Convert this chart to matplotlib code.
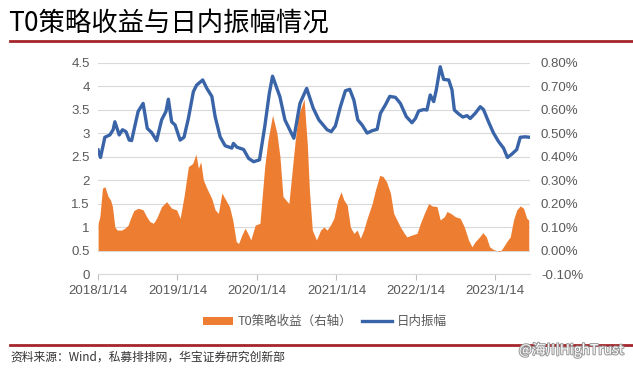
import numpy as np
import pandas as pd
import matplotlib
matplotlib.use('Agg')
import matplotlib.pyplot as plt
import matplotlib.dates as mdates
import matplotlib.patheffects as pe
from matplotlib.lines import Line2D
from matplotlib.patches import Patch
from matplotlib.ticker import FuncFormatter

plt.rcParams['font.family'] = ['Liberation Sans', 'Noto Sans CJK SC', 'DejaVu Sans']

# 日内振幅 (left axis)
amp_dates = ['2018-01-14', '2018-01-25', '2018-02-14', '2018-03-09', '2018-03-24', '2018-04-01',
             '2018-04-21', '2018-05-06', '2018-05-22', '2018-06-06', '2018-06-17', '2018-07-17',
             '2018-08-09', '2018-08-28', '2018-09-17', '2018-10-10', '2018-11-02', '2018-11-22',
             '2018-12-03', '2018-12-18', '2019-01-03', '2019-01-26', '2019-02-13', '2019-03-05',
             '2019-03-28', '2019-04-12', '2019-05-10', '2019-05-29', '2019-06-21', '2019-07-06',
             '2019-07-29', '2019-08-21', '2019-09-21', '2019-09-28', '2019-10-14', '2019-11-14',
             '2019-12-07', '2019-12-30', '2020-01-26', '2020-02-19', '2020-03-11', '2020-03-26',
             '2020-04-29', '2020-05-22', '2020-06-14', '2020-07-02', '2020-07-30', '2020-08-30',
             '2020-09-29', '2020-10-25', '2020-11-14', '2020-12-02', '2020-12-21', '2021-01-09',
             '2021-02-01', '2021-02-24', '2021-03-16', '2021-04-04', '2021-04-22', '2021-05-12',
             '2021-06-04', '2021-06-27', '2021-07-20', '2021-08-04', '2021-08-27', '2021-09-16',
             '2021-10-12', '2021-11-04', '2021-12-01', '2021-12-27', '2022-01-12', '2022-01-27',
             '2022-02-19', '2022-03-06', '2022-03-21', '2022-04-06', '2022-04-18', '2022-05-06',
             '2022-05-22', '2022-06-14', '2022-06-29', '2022-07-10', '2022-07-29', '2022-08-18',
             '2022-09-06', '2022-09-21', '2022-10-14', '2022-11-06', '2022-11-21', '2022-12-14',
             '2023-01-06', '2023-01-29', '2023-02-21', '2023-03-11', '2023-03-31', '2023-04-23',
             '2023-05-09', '2023-06-01', '2023-06-20']
amp_values = [2.64, 2.48, 2.91, 2.96, 3.07, 3.24,
              2.96, 3.07, 3.03, 2.85, 2.84, 3.46,
              3.63, 3.10, 3.01, 2.84, 3.28, 3.46,
              3.72, 3.24, 3.17, 2.85, 2.91, 3.31,
              3.88, 4.02, 4.13, 3.95, 3.78, 3.35,
              2.92, 2.73, 2.68, 2.78, 2.70, 2.65,
              2.46, 2.39, 2.43, 3.13, 3.84, 4.21,
              3.77, 3.28, 3.06, 2.89, 3.63, 3.95,
              3.53, 3.28, 3.17, 3.07, 3.03, 3.15,
              3.56, 3.90, 3.93, 3.70, 3.28, 3.17,
              3.00, 3.05, 3.08, 3.42, 3.60, 3.78,
              3.76, 3.63, 3.35, 3.22, 3.31, 3.47,
              3.50, 3.49, 3.81, 3.67, 3.92, 4.41,
              4.14, 4.13, 3.92, 3.49, 3.41, 3.34,
              3.37, 3.31, 3.42, 3.56, 3.50, 3.24,
              3.00, 2.82, 2.68, 2.48, 2.55, 2.65,
              2.91, 2.92, 2.91]

# T0策略收益 (right axis, %)
ret_dates = ['2018-01-14', '2018-01-22', '2018-02-03', '2018-02-14', '2018-03-01', '2018-03-12',
             '2018-03-21', '2018-04-01', '2018-04-12', '2018-05-02', '2018-05-17', '2018-06-01',
             '2018-06-12', '2018-06-27', '2018-07-17', '2018-08-09', '2018-08-25', '2018-09-09',
             '2018-09-25', '2018-10-10', '2018-11-02', '2018-11-25', '2018-12-18', '2019-01-10',
             '2019-01-26', '2019-02-13', '2019-03-05', '2019-03-25', '2019-04-09', '2019-04-20',
             '2019-05-01', '2019-05-13', '2019-05-29', '2019-06-21', '2019-07-06', '2019-07-21',
             '2019-08-06', '2019-08-21', '2019-09-10', '2019-09-25', '2019-10-11', '2019-10-22',
             '2019-11-06', '2019-11-21', '2019-12-07', '2019-12-17', '2020-01-06', '2020-01-28',
             '2020-02-19', '2020-03-05', '2020-03-26', '2020-04-15', '2020-04-29', '2020-05-13',
             '2020-06-09', '2020-07-07', '2020-07-21', '2020-08-18', '2020-09-02', '2020-09-12',
             '2020-09-25', '2020-10-14', '2020-11-02', '2020-11-17', '2020-12-02', '2020-12-17',
             '2021-01-02', '2021-01-20', '2021-02-04', '2021-02-17', '2021-03-04', '2021-03-19',
             '2021-04-04', '2021-04-19', '2021-05-04', '2021-05-19', '2021-06-04', '2021-06-27',
             '2021-07-12', '2021-08-01', '2021-08-16', '2021-09-01', '2021-09-19', '2021-10-04',
             '2021-10-19', '2021-11-04', '2021-11-22', '2021-12-04', '2021-12-27', '2022-01-19',
             '2022-02-04', '2022-02-22', '2022-03-14', '2022-03-29', '2022-04-21', '2022-05-06',
             '2022-05-25', '2022-06-06', '2022-06-24', '2022-07-14', '2022-08-06', '2022-08-25',
             '2022-09-13', '2022-09-29', '2022-10-14', '2022-11-03', '2022-11-18', '2022-12-04',
             '2022-12-19', '2023-01-06', '2023-01-21', '2023-02-06', '2023-02-21', '2023-03-08',
             '2023-03-24', '2023-04-08', '2023-04-23', '2023-05-09', '2023-05-24', '2023-06-08',
             '2023-06-17']
ret_values = [0.116, 0.144, 0.265, 0.272, 0.230, 0.215,
              0.187, 0.100, 0.087, 0.087, 0.095, 0.108,
              0.137, 0.170, 0.180, 0.173, 0.144, 0.123,
              0.116, 0.137, 0.187, 0.208, 0.180, 0.173,
              0.137, 0.230, 0.357, 0.371, 0.410, 0.350,
              0.378, 0.300, 0.265, 0.220, 0.173, 0.158,
              0.245, 0.220, 0.187, 0.130, 0.038, 0.030,
              0.066, 0.095, 0.066, 0.045, 0.108, 0.116,
              0.357, 0.470, 0.576, 0.500, 0.400, 0.230,
              0.200, 0.457, 0.570, 0.645, 0.450, 0.250,
              0.087, 0.045, 0.087, 0.100, 0.087, 0.108,
              0.137, 0.215, 0.250, 0.215, 0.194, 0.100,
              0.073, 0.087, 0.052, 0.087, 0.137, 0.200,
              0.257, 0.320, 0.315, 0.293, 0.245, 0.158,
              0.130, 0.100, 0.073, 0.058, 0.066, 0.073,
              0.116, 0.158, 0.200, 0.190, 0.187, 0.130,
              0.144, 0.166, 0.158, 0.144, 0.137, 0.100,
              0.045, 0.016, 0.038, 0.058, 0.076, 0.058,
              0.016, 0.004, 0.000, -0.004, 0.016, 0.038,
              0.058, 0.130, 0.173, 0.190, 0.180, 0.137,
              0.130]

year_ticks = ['2018-01-14', '2019-01-14', '2020-01-14', '2021-01-14', '2022-01-14', '2023-01-14']
tick_labels = ['2018/1/14', '2019/1/14', '2020/1/14', '2021/1/14', '2022/1/14', '2023/1/14']

amp_x = pd.to_datetime(amp_dates)
ret_x = pd.to_datetime(ret_dates)

fig = plt.figure(figsize=(6.33, 3.68), dpi=100)
ax2 = fig.add_axes([0.155, 0.2554, 0.682, 0.5746])
ax1 = ax2.twinx()
ax1.yaxis.tick_left()
ax2.yaxis.tick_right()
ax1.set_zorder(ax2.get_zorder() + 1)
ax1.patch.set_visible(False)

grey = '#595959'

# orange area, right axis
ax2.fill_between(ret_x, 0, ret_values, color='#ED7D31', lw=0, zorder=2)
ax2.set_ylim(-0.1, 0.8)
ax2.set_yticks(np.arange(-0.1, 0.81, 0.1))
ax2.yaxis.set_major_formatter(FuncFormatter(lambda v, p: f'{v:.2f}%'))
ax2.grid(axis='y', color='#D9D9D9', lw=0.8, zorder=0)
ax2.set_axisbelow(True)
ax2.tick_params(axis='y', length=0, pad=8, labelsize=9.5, labelcolor=grey)

# blue line, left axis
ax1.plot(amp_x, amp_values, color='#3A64A8', lw=2.4, solid_joinstyle='round')
ax1.set_ylim(0, 4.5)
ax1.set_yticks(np.arange(0, 4.51, 0.5))
ax1.set_yticklabels(['0', '0.5', '1', '1.5', '2', '2.5', '3', '3.5', '4', '4.5'])
ax1.tick_params(axis='y', length=0, pad=6, labelsize=9.5, labelcolor=grey)

ax2.set_xlim(pd.Timestamp('2018-01-14'), pd.Timestamp('2023-06-22'))
ax2.set_xticks(pd.to_datetime(year_ticks))
ax2.set_xticklabels(tick_labels)
ax2.tick_params(axis='x', length=4, color='#BFBFBF', pad=4, labelsize=9.5, labelcolor=grey)

for ax in (ax1, ax2):
    for s in ('top', 'left', 'right'):
        ax.spines[s].set_visible(False)
    ax.spines['bottom'].set_color('#D9D9D9')
ax1.spines['bottom'].set_visible(False)

# title and rules
fig.text(0.013, 0.915, 'T0策略收益与日内振幅情况', fontsize=19, color='black',
         family=['Noto Sans CJK SC'], va='baseline')
fig.add_artist(Line2D([0.016, 1.0], [1 - 41 / 368] * 2, color='#A3262A', lw=2))
fig.add_artist(Line2D([0.016, 1.0], [1 - 345 / 368] * 2, color='#A3262A', lw=2))

fig.text(0.016, 1 - 357 / 368, '资料来源：Wind，私募排排网，华宝证券研究创新部', fontsize=8.5,
         color='#333333', family=['Noto Sans CJK SC'], va='center')
fig.text(0.985, 1 - 350 / 368, '@海川HighTrust', fontsize=10, color='white', ha='right',
         va='center', family=['Noto Sans CJK SC'],
         path_effects=[pe.withStroke(linewidth=1.5, foreground='#9A9A9A')])

handles = [Patch(facecolor='#ED7D31', edgecolor='none'),
           Line2D([], [], color='#3A64A8', lw=2.4)]
fig.legend(handles, ['T0策略收益（右轴）', '日内振幅'], loc='center',
           bbox_to_anchor=(325 / 633, 1 - 322 / 368), ncol=2, frameon=False,
           fontsize=9, labelcolor=grey, handlelength=2.4, handleheight=0.6,
           columnspacing=0.8, handletextpad=0.4)

fig.savefig('out.png', dpi=100)
